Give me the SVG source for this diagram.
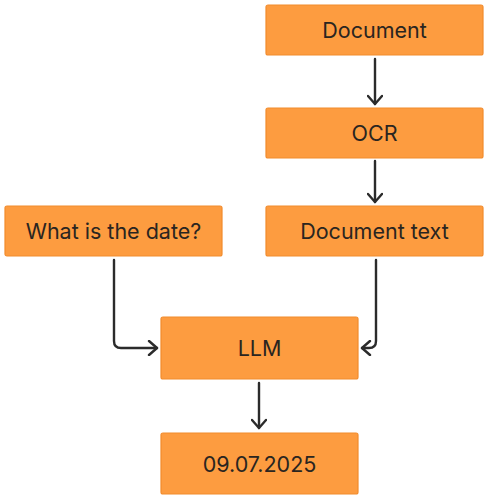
<svg xmlns="http://www.w3.org/2000/svg" width="494" height="502" viewBox="0 0 494 502">
<defs>
<style>
.box{fill:#FD9C40;stroke:#F28B2C;stroke-width:1.2}
.lbl{font-family:Inter,"Noto Sans",sans-serif;font-size:21.5px;font-weight:400;fill:#2a2520;text-anchor:middle;dominant-baseline:central}
.edge{fill:none;stroke:#2b2b2b;stroke-width:2.4;stroke-linecap:round;stroke-linejoin:round}
</style>
<marker id="ah" viewBox="0 0 12 16" refX="10" refY="8" markerWidth="12" markerHeight="16" markerUnits="userSpaceOnUse" orient="auto">
<path d="M2,1 L10,8 L2,15" fill="none" stroke="#2b2b2b" stroke-width="2.4" stroke-linecap="round" stroke-linejoin="round"/>
</marker>
</defs>
<rect width="494" height="502" fill="#ffffff"/>
<g id="connectors">
<path class="edge" d="M375,59 L375,104" marker-end="url(#ah)"/>
<path class="edge" d="M375,161 L375,202" marker-end="url(#ah)"/>
<path class="edge" d="M114,260 L114,341 Q114,348 121,348 L157,348" marker-end="url(#ah)"/>
<path class="edge" d="M376,260 L376,341 Q376,348 369,348 L362,348" marker-end="url(#ah)"/>
<path class="edge" d="M259,383 L259,428" marker-end="url(#ah)"/>
</g>
<g id="document">
<rect class="box" x="266" y="5" width="217" height="50" rx="2"/>
<text class="lbl" x="374.5" y="30">Document</text>
</g>
<g id="ocr">
<rect class="box" x="266" y="108" width="217" height="50" rx="2"/>
<text class="lbl" x="374.5" y="133">OCR</text>
</g>
<g id="document-text">
<rect class="box" x="266" y="206" width="217" height="50" rx="2"/>
<text class="lbl" x="374.5" y="231">Document text</text>
</g>
<g id="question">
<rect class="box" x="5" y="206" width="217" height="50" rx="2"/>
<text class="lbl" x="113.5" y="231">What is the date?</text>
</g>
<g id="llm">
<rect class="box" x="161" y="317" width="197" height="62" rx="2"/>
<text class="lbl" x="259.5" y="348">LLM</text>
</g>
<g id="answer">
<rect class="box" x="161" y="433" width="197" height="61" rx="2"/>
<text class="lbl" x="259.5" y="463.5">09.07.2025</text>
</g>
</svg>
